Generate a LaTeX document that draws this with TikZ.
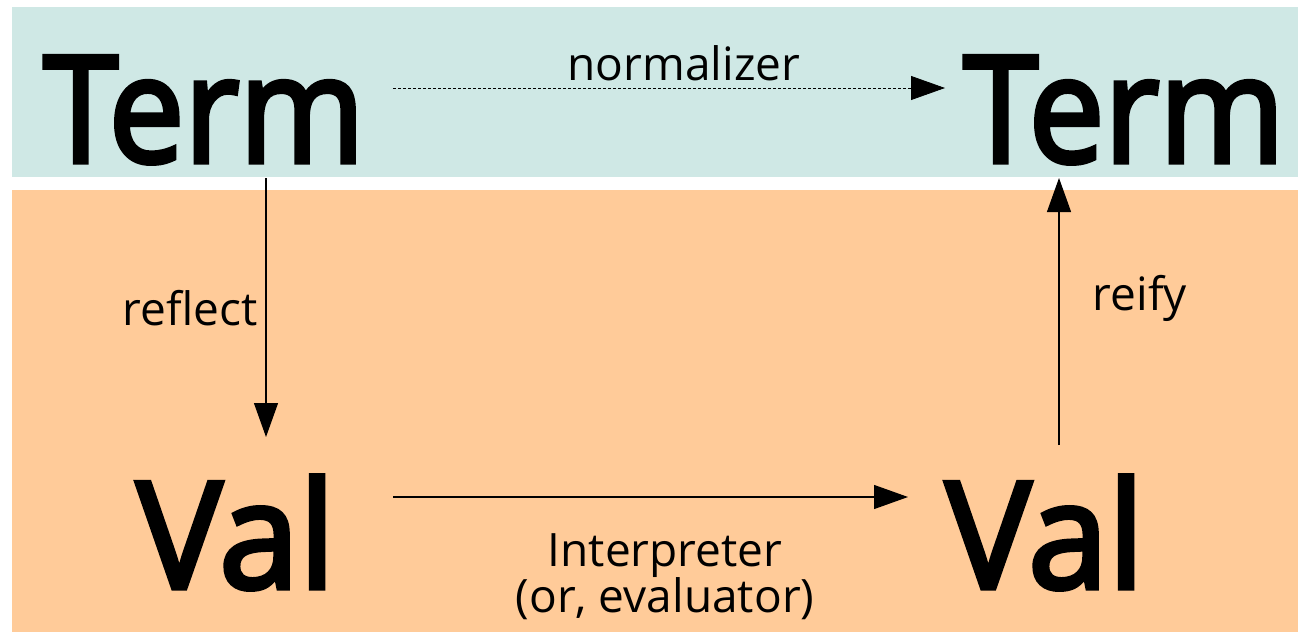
\documentclass[tikz,border=0pt]{standalone}
\usepackage{fontspec}
\setmainfont{Open Sans}
\usetikzlibrary{arrows.meta}
\definecolor{termbg}{HTML}{CFE8E5}
\definecolor{valbg}{HTML}{FFCB99}
% heavier strokes for the big words (fill + stroke)
\newcommand{\heavy}[2]{\scalebox{#1}[1]{\special{pdf:literal direct 2 Tr 5 w}#2\special{pdf:literal direct 0 Tr}}}

\begin{document}
\begin{tikzpicture}[x=1pt,y=-1pt,
  big/.style={font=\fontsize{148}{148}\selectfont,inner sep=0pt,anchor=base},
  lbl/.style={font=\fontsize{46}{50}\selectfont,inner sep=0pt,anchor=base},
  conn/.style={line width=1.2pt,-{Triangle[length=34pt,width=24pt]}}]
  \useasboundingbox (0,0) rectangle (1298,632);
  % the two bands
  \fill[termbg] (12,7) rectangle (1298,177);
  \fill[valbg] (12,190) rectangle (1298,632);

  % big words
  \node[big] (termL) at (204,162) {\heavy{0.91}{Term}};
  \node[big] (termR) at (1124,162) {\heavy{0.91}{Term}};
  \node[big] (valL) at (236,588) {\heavy{0.97}{Val}};
  \node[big] (valR) at (1045,588) {\heavy{0.97}{Val}};

  % connectors
  \draw[conn,line width=0.8pt,dash pattern=on 3pt off 2pt]
    ([xshift=189pt,yshift=74pt]termL.base) -- ([xshift=-179pt,yshift=74pt]termR.base);
  \draw[conn] ([xshift=62pt,yshift=-16pt]termL.base) -- ([xshift=30pt,yshift=151pt]valL.base);
  \draw[conn] ([xshift=157pt,yshift=91pt]valL.base) -- ([xshift=-137pt,yshift=91pt]valR.base);
  \draw[conn] ([xshift=14pt,yshift=143pt]valR.base) -- ([xshift=-65pt,yshift=-16pt]termR.base);

  % labels
  \node[lbl] (norm) at (684,80) {normalizer};
  \node[lbl] (refl) at (190,325) {reflect};
  \node[lbl] (reif) at (1140,310) {reify};
  \node[lbl] (interp) at (665,566) {Interpreter};
  \node[lbl] (evalr) at (665,612) {(or, evaluator)};
\end{tikzpicture}
\end{document}
